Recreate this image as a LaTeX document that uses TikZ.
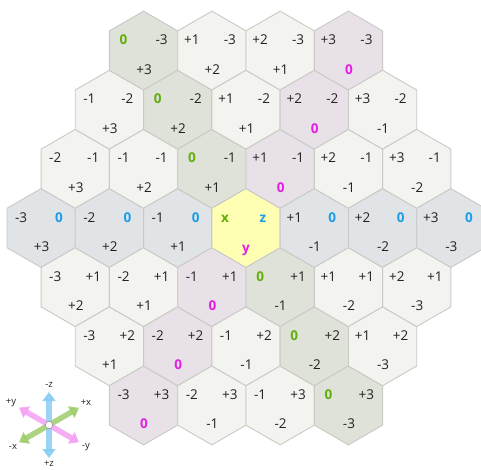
\documentclass[tikz,border=0pt]{standalone}
\usepackage{fontspec}
\setsansfont{Open Sans}
\usetikzlibrary{arrows.meta}
\definecolor{hexline}{HTML}{C9C9C6}
\definecolor{cellgray}{HTML}{F3F3F0}
\definecolor{cellx}{HTML}{DFE2D8}
\definecolor{cellz}{HTML}{E0E4E7}
\definecolor{celly}{HTML}{E8E2E8}
\definecolor{cellmid}{HTML}{FFFFB4}
\definecolor{numgray}{HTML}{222222}
\definecolor{xgreen}{HTML}{62AE0C}
\definecolor{zblue}{HTML}{1C9DE6}
\definecolor{ymag}{HTML}{E41EE4}
\tikzset{
  cell/.style  = {draw=hexline, line width=0.9pt, line join=round},
  num/.style   = {font=\sffamily\fontsize{13.5}{13.5}\selectfont, text=numgray,
                  anchor=base, inner sep=0pt},
  zero/.style  = {num, font=\sffamily\bfseries\fontsize{13.5}{13.5}\selectfont},
  axarrow/.style = {{Triangle[width=13pt,length=9pt]}-{Triangle[width=13pt,length=9pt]},
                  line width=5.5pt, opacity=0.8},
  axlab/.style = {font=\sffamily\fontsize{9.5}{9.5}\selectfont, text=numgray, inner sep=0pt},
}
\newcommand\signed[1]{\ifnum#1>0 +#1\else#1\fi}

\begin{document}
\begin{tikzpicture}[x=1pt,y=-1pt]
  \useasboundingbox (0,0) rectangle (481,469);
  \clip (0,0) rectangle (481,469);
  \def\W{68.3}\def\R{39.43}
  \foreach \q in {-3,...,3}{
    \foreach \r in {-3,...,3}{
      \pgfmathtruncatemacro\s{-\q-\r}
      \pgfmathtruncatemacro\i{\q+3}
      \pgfmathtruncatemacro\j{\r+3}
      \ifnum\s<-3 \else\ifnum\s>3 \else
        \pgfmathsetmacro\cx{246+\W*(\q+0.5*\r)}
        \pgfmathsetmacro\cy{228+1.5*\R*\r}
        \def\hexfill{cellgray}
        \ifnum\s=0 \def\hexfill{celly}\fi
        \ifnum\r=0 \def\hexfill{cellz}\fi
        \ifnum\q=0 \def\hexfill{cellx}\fi
        \ifnum\q=0 \ifnum\r=0 \def\hexfill{cellmid}\fi\fi
        \coordinate (c\i\j) at (\cx,\cy);
        \draw[cell,fill=\hexfill] (c\i\j) +(90:\R) -- +(30:\R) -- +(-30:\R)
            -- +(-90:\R) -- +(-150:\R) -- +(150:\R) -- cycle;
        \ifnum\q=0
          \ifnum\r=0
            \node[zero,text=xgreen] (ux\i\j) at ([shift={(-21,-6)}]c\i\j) {x};
            \node[zero,text=zblue] (uz\i\j) at ([shift={(17,-6)}]c\i\j) {z};
            \node[zero,text=ymag] (uy\i\j) at ([shift={(0,24)}]c\i\j) {y};
          \else
            \node[zero,text=xgreen] (ux\i\j) at ([shift={(-20,-6)}]c\i\j) {0};
            \node[num] (uz\i\j) at ([shift={(18,-6)}]c\i\j) {\signed{\r}};
            \node[num] (uy\i\j) at ([shift={(0.5,23.5)}]c\i\j) {\signed{\s}};
          \fi
        \else
          \node[num] (ux\i\j) at ([shift={(-20,-6)}]c\i\j) {\signed{\q}};
          \ifnum\r=0
            \node[zero,text=zblue] (uz\i\j) at ([shift={(18,-6)}]c\i\j) {0};
          \else
            \node[num] (uz\i\j) at ([shift={(18,-6)}]c\i\j) {\signed{\r}};
          \fi
          \ifnum\s=0
            \node[zero,text=ymag] (uy\i\j) at ([shift={(0.5,23.5)}]c\i\j) {0};
          \else
            \node[num] (uy\i\j) at ([shift={(0.5,23.5)}]c\i\j) {\signed{\s}};
          \fi
        \fi
      \fi\fi
    }
  }
  \coordinate (o) at (49,425);
  \coordinate (zm) at (49,392);   \coordinate (zp) at (49,458);
  \coordinate (xm) at (19,442.3); \coordinate (xp) at (79,407.7);
  \coordinate (yp) at (19,407.7); \coordinate (ym) at (79,442.3);
  \draw[axarrow,zblue!55] (zm) -- (zp);
  \draw[axarrow,xgreen!65] (xm) -- (xp);
  \draw[axarrow,ymag!45] (yp) -- (ym);
  \node[circle,draw=gray,fill=white,inner sep=0pt,minimum size=7.5pt] (oc) at (o) {};
  \node[axlab] (lzm) at (49,385) {-z};
  \node[axlab] (lzp) at (49,463.5) {+z};
  \node[axlab] (lyp) at (11,403) {+y};
  \node[axlab] (lxp) at (86,403) {+x};
  \node[axlab] (lxm) at (13,447) {-x};
  \node[axlab] (lym) at (86,447) {-y};
\end{tikzpicture}
\end{document}
